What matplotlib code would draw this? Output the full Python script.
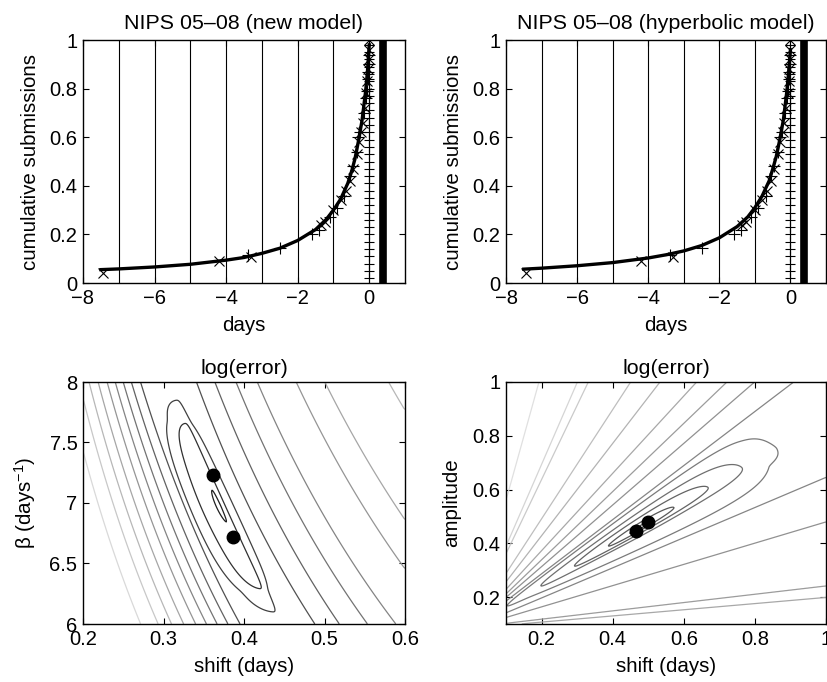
import numpy as np
import matplotlib
matplotlib.use('Agg')
import matplotlib.pyplot as plt

plt.rcParams['font.family'] = ['Liberation Sans', 'DejaVu Sans']
plt.rcParams['mathtext.fontset'] = 'custom'
plt.rcParams['mathtext.rm'] = 'Liberation Sans'
plt.rcParams['mathtext.it'] = 'Liberation Sans:italic'
plt.rcParams['font.size'] = 14.5

TITLE_FS = 15.4
LABEL_FS = 14.8

# ---------------- data ----------------
new_curve_days = [-7.5, -7.0, -6.0, -5.0, -4.0, -3.5, -3.0, -2.5, -2.0, -1.5, -1.2,
                  -1.0, -0.8, -0.6, -0.5, -0.4, -0.3, -0.2, -0.15, -0.1, -0.05, 0.0]
new_curve_frac = [0.055, 0.058, 0.066, 0.077, 0.094, 0.105, 0.122, 0.143, 0.175, 0.22,
                  0.262, 0.30, 0.345, 0.41, 0.455, 0.51, 0.585, 0.67, 0.73, 0.79, 0.87, 0.98]
hyp_curve_days = [-7.5, -7.0, -6.0, -5.0, -4.0, -3.5, -3.0, -2.5, -2.0, -1.5, -1.2,
                  -1.0, -0.8, -0.6, -0.5, -0.4, -0.3, -0.2, -0.15, -0.1, -0.05, 0.0]
hyp_curve_frac = [0.057, 0.061, 0.071, 0.084, 0.103, 0.116, 0.132, 0.154, 0.186, 0.232,
                  0.272, 0.31, 0.357, 0.42, 0.468, 0.52, 0.59, 0.67, 0.73, 0.79, 0.87, 0.96]
x_days = [-7.45, -4.2, -3.3, -1.35, -1.25, -1.0, -0.8, -0.65, -0.55, -0.45, -0.35,
          -0.28, -0.22, -0.18, -0.12, -0.08, -0.05, -0.03, -0.02, -0.01, 0.0]
x_frac = [0.04, 0.09, 0.105, 0.24, 0.25, 0.30, 0.34, 0.38, 0.42, 0.47, 0.53,
          0.58, 0.62, 0.66, 0.72, 0.78, 0.83, 0.88, 0.92, 0.96, 1.0]
plus_days = [-3.4, -2.5, -1.6, -1.4, -1.1, -0.9, -0.7, -0.55, -0.45, -0.35, -0.3,
             -0.25, -0.15, -0.1, -0.07, -0.04, -0.03, -0.02, -0.01]
plus_frac = [0.115, 0.145, 0.2, 0.22, 0.27, 0.31, 0.36, 0.44, 0.48, 0.54, 0.6,
             0.62, 0.70, 0.76, 0.79, 0.84, 0.87, 0.90, 0.94]
zero_frac = [0.02, 0.05, 0.08, 0.11, 0.14, 0.17, 0.20, 0.23, 0.26, 0.29, 0.32, 0.35,
             0.38, 0.41, 0.44, 0.47, 0.50, 0.53, 0.56, 0.59, 0.62, 0.65, 0.68, 0.71,
             0.74, 0.77, 0.80, 0.83, 0.86, 0.89, 0.92, 0.95, 0.98]
day_lines = [-7, -6, -5, -4, -3, -2, -1]
deadline_bar = 0.375

new_opt_shift = [0.362, 0.386]
new_opt_beta = [7.23, 6.72]
hyp_opt_shift = [0.465, 0.50]
hyp_opt_amp = [0.445, 0.48]

# error-surface shape parameters (contour levels and profile knots)
new_levels = [0.35, 1.65, 2.0, 2.25, 2.85, 3.45, 4.0, 4.6, 5.2, 5.85, 6.55, 7.5]
new_left_d = [0, 0.165, 0.27, 0.31, 0.40, 0.48, 0.56, 0.64, 0.73, 0.82, 0.92, 1.05, 3]
new_left_D = [0, 1.65, 2.0, 2.25, 2.85, 3.45, 4.0, 4.6, 5.2, 5.85, 6.55, 7.5, 20]
new_right_d = [0, 0.038, 0.115, 0.25, 0.43, 0.64, 0.85, 1.24, 1.52, 2.16, 5]
new_right_D = [0, 1.65, 2.0, 2.25, 2.85, 3.45, 4.0, 4.6, 5.2, 5.85, 12]

hyp_levels = [0.4, 1, 2, 3, 4, 4.6, 5.8, 7.3, 9.1, 11.5, 13.6, 17, 17.9, 21.2]
hyp_up_k = [0, 0.075, 0.125, 0.19, 0.24, 0.30, 0.38, 0.45, 0.56, 0.59, 0.70, 2]
hyp_up_T = [0, 3, 4.6, 5.8, 7.3, 9.1, 11.5, 13.6, 17, 17.9, 21.2, 60]
hyp_lo_k = [0, 0.04, 0.152, 0.287, 0.51, 0.549, 0.66, 1.5]
hyp_lo_T = [0, 3, 4.6, 5.8, 7.3, 9.1, 11.5, 40]
hyp_r_k = [0, 0.48, 0.6, 5]
hyp_r_R = [0, 4, 4.3, 4.4]

top_xticks = [-8, -6, -4, -2, 0]
top_xticklabels = ['\u22128', '\u22126', '\u22124', '\u22122', '0']
frac_ticks = [0, 0.2, 0.4, 0.6, 0.8, 1]
frac_ticklabels = ['0', '0.2', '0.4', '0.6', '0.8', '1']

W, H = 827, 682
fig = plt.figure(figsize=(W / 100, H / 100), dpi=100)


def ax_px(l, r, t, b):
    return fig.add_axes([l / W, 1 - b / H, (r - l) / W, (b - t) / H])


def style(ax):
    ax.tick_params(direction='in', top=True, right=True, length=4, width=0.8, pad=4)
    for s in ax.spines.values():
        s.set_linewidth(1.0)


def smooth(Z, n=9):
    k = np.hanning(n + 2)[1:-1]
    k = k / k.sum()
    p = n // 2
    Zp = np.pad(Z, p, mode='edge')
    Zp = np.apply_along_axis(lambda v: np.convolve(v, k, mode='same'), 0, Zp)
    Zp = np.apply_along_axis(lambda v: np.convolve(v, k, mode='same'), 1, Zp)
    return Zp[p:-p, p:-p]


def top_panel(ax, cdays, cfrac, title):
    for dd in day_lines:
        ax.axvline(dd, color='black', lw=0.8, zorder=1)
    ax.plot([0] * len(zero_frac), zero_frac, '-+', color='black', lw=0.8, ms=7, mew=0.8)
    ax.axvline(deadline_bar, color='black', lw=5.5)
    ax.plot(cdays, cfrac, '-', color='black', lw=2.4, zorder=3)
    ax.plot(x_days, x_frac, 'x', color='black', ms=7, mew=0.8, zorder=4)
    ax.plot(plus_days, plus_frac, '+', color='black', ms=9, mew=0.8, zorder=4)
    ax.set_xlim(-8, 1)
    ax.set_ylim(0, 1)
    ax.set_xticks(top_xticks)
    ax.set_xticklabels(top_xticklabels)
    ax.set_yticks(frac_ticks)
    ax.set_yticklabels(frac_ticklabels)
    ax.set_xlabel('days', labelpad=6, fontsize=LABEL_FS)
    ax.set_ylabel('cumulative submissions', labelpad=7, fontsize=LABEL_FS)
    ax.set_title(title, pad=8, fontsize=TITLE_FS)
    style(ax)


ax1 = ax_px(83, 405, 40, 283)
top_panel(ax1, new_curve_days, new_curve_frac, 'NIPS 05\u201308 (new model)')
ax2 = ax_px(506, 826, 40, 283)
top_panel(ax2, hyp_curve_days, hyp_curve_frac, 'NIPS 05\u201308 (hyperbolic model)')

# ---- bottom-left: log(error) over (shift, beta) ----
ax3 = ax_px(83, 405, 382, 624)
sx = np.linspace(0.2, 0.6, 500)
by = np.linspace(6, 8, 500)
SX, BY = np.meshgrid(sx, by)
s0 = 2.58 - 0.1 * (BY - 7.0)
d = SX * BY - s0
D = np.where(d < 0, np.interp(-d, new_left_d, new_left_D), np.interp(d, new_right_d, new_right_D))
db = np.abs(BY - 6.975) / 0.882
Bv = 2.15 * np.tanh(db ** 4) ** 0.25
F = smooth(np.sqrt(D ** 2 + Bv ** 2 * np.clip(1 - (D / 2.2) ** 2, 0, 1)), 7)
grays = np.linspace(0.12, 0.85, len(new_levels))
ax3.contour(SX, BY, F, levels=new_levels, colors=[str(g) for g in grays], linewidths=0.9)
ax3.plot(new_opt_shift, new_opt_beta, 'o', color='black', ms=9)
ax3.set_xlim(0.2, 0.6)
ax3.set_ylim(6, 8)
ax3.set_xticks([0.2, 0.3, 0.4, 0.5, 0.6])
ax3.set_xticklabels(['0.2', '0.3', '0.4', '0.5', '0.6'])
ax3.set_yticks([6, 6.5, 7, 7.5, 8])
ax3.set_yticklabels(['6', '6.5', '7', '7.5', '8'])
ax3.set_xlabel('shift (days)', labelpad=6, fontsize=LABEL_FS)
ax3.set_ylabel('\u03b2 (days$^{\u22121}$)', labelpad=8, fontsize=LABEL_FS)
ax3.set_title('log(error)', pad=6, fontsize=TITLE_FS)
style(ax3)

# ---- bottom-right: log(error) over (shift, amplitude) ----
ax4 = ax_px(506, 826, 382, 624)
hx = np.linspace(0.1, 1.0, 500)
hy = np.linspace(0.1, 1.0, 500)
HX, HY = np.meshgrid(hx, hy)
apx, apy = 0.0, 0.085
th = np.arctan2(HY - apy, HX - apx)
th0 = np.arctan2(0.46 - apy, 0.48 - apx)
r = np.hypot(HY - apy, HX - apx)
r0 = np.hypot(0.46 - apy, 0.48 - apx)
dth = th - th0
T = np.where(dth > 0, np.interp(dth, hyp_up_k, hyp_up_T), np.interp(-dth, hyp_lo_k, hyp_lo_T))
R = np.interp(np.abs(r - r0), hyp_r_k, hyp_r_R)
F2 = smooth(np.sqrt(T ** 2 + R ** 2 * np.clip(1 - (T / 4.5) ** 2, 0, 1)), 7)
grays2 = np.linspace(0.3, 0.88, len(hyp_levels))
ax4.contour(HX, HY, F2, levels=hyp_levels, colors=[str(g) for g in grays2], linewidths=0.9)
ax4.plot(hyp_opt_shift, hyp_opt_amp, 'o', color='black', ms=9)
ax4.set_xlim(0.1, 1.0)
ax4.set_ylim(0.1, 1.0)
ax4.set_xticks([0.2, 0.4, 0.6, 0.8, 1.0])
ax4.set_xticklabels(['0.2', '0.4', '0.6', '0.8', '1'])
ax4.set_yticks([0.2, 0.4, 0.6, 0.8, 1.0])
ax4.set_yticklabels(['0.2', '0.4', '0.6', '0.8', '1'])
ax4.set_xlabel('shift (days)', labelpad=6, fontsize=LABEL_FS)
ax4.set_ylabel('amplitude', labelpad=8, fontsize=LABEL_FS)
ax4.set_title('log(error)', pad=6, fontsize=TITLE_FS)
style(ax4)

fig.savefig('out.png', dpi=100)
